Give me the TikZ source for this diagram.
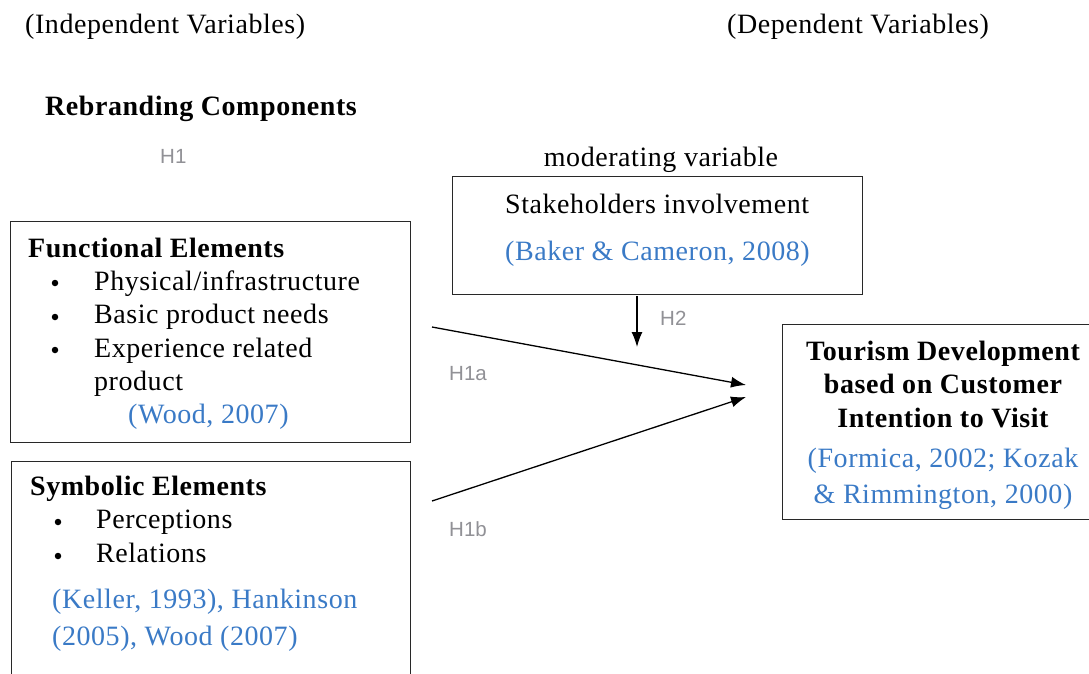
\documentclass[tikz,border=0pt]{standalone}
\usepackage{fontspec}
\setmainfont{Liberation Serif}[LetterSpace=2.0]
\newfontfamily\hypfont{Liberation Sans}
\usetikzlibrary{arrows.meta}
\definecolor{citeblue}{RGB}{58,122,198}
\definecolor{hypgray}{RGB}{145,145,150}
\definecolor{framegray}{RGB}{40,40,40}
\tikzset{
  txt/.style={anchor=base west, inner sep=0pt, font=\fontsize{28}{34}\selectfont},
  ctxt/.style={txt, anchor=base},
  bld/.style={font=\fontsize{28}{34}\selectfont\bfseries},
  cite/.style={text=citeblue},
  hyp/.style={anchor=base west, inner sep=0pt, text=hypgray, font=\fontsize{20.5}{24}\selectfont\hypfont},
  frame/.style={draw=framegray, line width=1.4pt, anchor=north west, inner sep=0pt},
  arr/.style={line width=1.3pt, -{Latex[length=15pt,width=11pt]}},
  bul/.style={circle, fill=black, inner sep=0pt, minimum size=6.5pt}
}
\begin{document}
\begin{tikzpicture}[x=1pt,y=-1pt]
\useasboundingbox (0,0) rectangle (1089,673);
\clip (0,0) rectangle (1089,673);
\fill[white] (0,0) rectangle (1089,673);

% headings
\node[txt] (indep) at (25,33) {(Independent Variables)};
\node[txt] (dep) at (727,33) {(Dependent Variables)};
\node[txt,bld] (rebrand) at (45,115) {Rebranding Components};
\node[hyp] (h1) at (160,163) {H1};
\node[ctxt] (moder) at (661,166) {moderating variable};

% moderator box
\node[frame, minimum width=410pt, minimum height=118pt] (sbox) at (452,176) {};
\node[txt] (stake) at (505,213) {Stakeholders involvement};
\node[txt,cite] (baker) at (505,260) {(Baker \& Cameron, 2008)};

% functional elements box
\node[frame, minimum width=400pt, minimum height=221pt] (fbox) at (10,221) {};
\node[txt,bld] (ftitle) at (28,257) {Functional Elements};
\node[bul] (fb1) at (55,283) {};
\node[bul] (fb2) at (55,317) {};
\node[bul] (fb3) at (55,350) {};
\node[txt] (f1) at (94,290) {Physical/infrastructure};
\node[txt] (f2) at (94,323) {Basic product needs};
\node[txt] (f3) at (94,357) {Experience related};
\node[txt] (f4) at (94,390) {product};
\node[txt,cite] (fcite) at (128,423) {(Wood, 2007)};

% symbolic elements box
\node[frame, minimum width=399pt, minimum height=240pt] (symbox) at (11,461) {};
\node[txt,bld] (stitle) at (30,495) {Symbolic Elements};
\node[bul] (sb1) at (58,522) {};
\node[bul] (sb2) at (58,556) {};
\node[txt] (s1) at (96,528) {Perceptions};
\node[txt] (s2) at (96,562) {Relations};
\node[txt,cite] (scite1) at (52,608) {(Keller, 1993), Hankinson};
\node[txt,cite] (scite2) at (52,645) {(2005), Wood (2007)};

% dependent variable box
\node[frame, minimum width=312pt, minimum height=195pt] (tbox) at (782,324) {};
\node[ctxt,bld] (t1) at (943,360) {Tourism Development};
\node[ctxt,bld] (t2) at (943,393) {based on Customer};
\node[ctxt,bld] (t3) at (943,427) {Intention to Visit};
\node[ctxt,cite] (t4) at (943,467) {(Formica, 2002; Kozak};
\node[ctxt,cite] (t5) at (943,503) {\& Rimmington, 2000)};

% hypothesised paths
\coordinate (h2s) at (637,296);
\coordinate (h2e) at (637,347);
\coordinate (ha1) at (432,327);
\coordinate (ha2) at (746,385);
\coordinate (hb1) at (432,501);
\coordinate (hb2) at (746,397);
\draw[arr] (h2s) -- (h2e);
\draw[arr] (ha1) -- (ha2);
\draw[arr] (hb1) -- (hb2);
\node[hyp] (h2) at (660,325) {H2};
\node[hyp] (h1a) at (449,380) {H1a};
\node[hyp] (h1b) at (449,536) {H1b};
\end{tikzpicture}
\end{document}
